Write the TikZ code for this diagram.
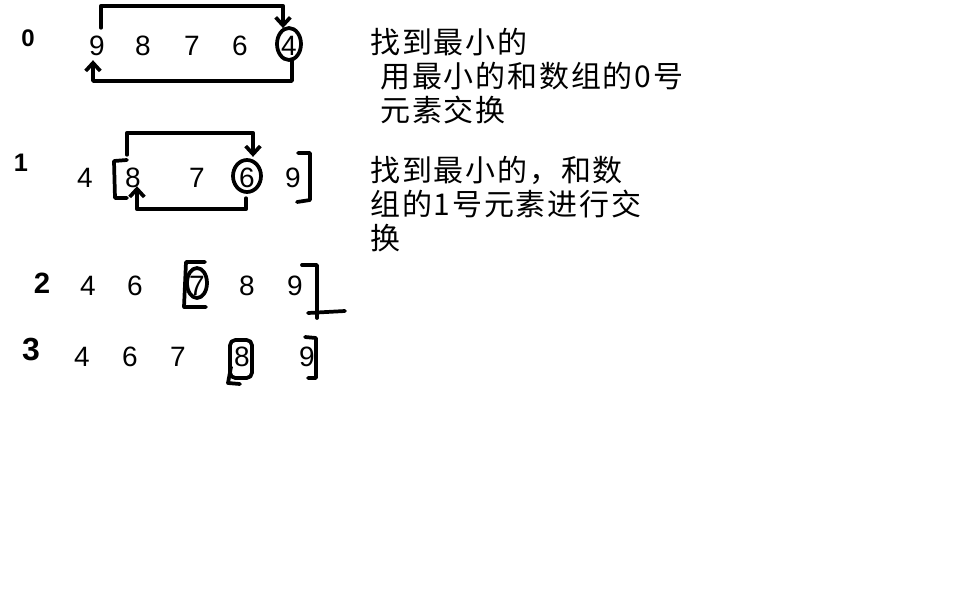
\documentclass[tikz,border=0pt]{standalone}
\usepackage{fontspec}
\setmainfont{Liberation Sans}
\newfontfamily\cjk[LetterSpace=6]{Noto Sans CJK SC}
\usetikzlibrary{calc,arrows.meta}

\begin{document}
\begin{tikzpicture}[x=0.75pt,y=-0.75pt,
  digit/.style={inner sep=0pt,font=\fontsize{21}{21}\selectfont},
  rowlbl/.style={inner sep=0pt},
  note/.style={inner sep=0pt,anchor=base west,align=left,
    font=\cjk\fontsize{22.5}{25.2}\selectfont},
  pen/.style={line width=2.8pt,line cap=round,line join=round},
  swap/.style={pen,-{Straight Barb[length=6pt,width=11pt]}}]
\useasboundingbox (0,0) rectangle (957,615);
% pass numbers
\foreach \r/\xx/\yy/\sz in {0/28/38/18,1/21/163/19,2/42/283/22,3/31/350/24} {
  \node[rowlbl,font=\fontsize{\sz}{\sz}\selectfont\bfseries] (lbl\r) at (\xx,\yy) {\r};
}
% array values, one row per pass
\foreach \r/\yy/\vals in {
  0/46/{9/97,8/143,7/192,6/240,4/289},
  1/178/{4/85,8/133,7/197,6/247,9/293},
  2/286/{4/88,6/135,7/197,8/247,9/295},
  3/357/{4/82,6/130,7/178,8/242,9/307}} {
  \foreach \v/\xx [count=\c from 0] in \vals {
    \node[digit] (r\r-\c) at (\xx,\yy) {\v};
  }
}
% pass 0: swap 9 and 4
\draw[swap] ($(r0-0.north)+(4,-8)$) -- ++(0,-22) -| ($(r0-4.north)+(-6,-8)$);
\draw[pen] ($(r0-4)+(0,-2)$) ellipse [x radius=12,y radius=16];
\draw[swap] ($(r0-4.south)+(3,4)$) -- ++(0,21) -| ($(r0-0.south)+(-4,4)$);
% pass 1: swap 8 and 6
\draw[pen] ($(r1-1)+(-6,-18)$) -- ++(-13,1) -- ++(1,37) -- ++(12,0);
\draw[swap] ($(r1-1.north)+(-6,-13)$) -- ++(0,-22) -| ($(r1-3.north)+(6,-11)$);
\draw[pen] ($(r1-3)+(0,-2)$) ellipse [x radius=14,y radius=16];
\draw[swap] ($(r1-3.south)+(-1,10)$) -- ++(0,11) -| ($(r1-1.south)+(4,-2)$);
\draw[pen] ($(r1-4)+(5,-25)$) -- ++(12,0) -- ++(0,47) -- ++(-13,2);
% pass 2
\draw[pen] ($(r2-2)+(8,-24)$) -- ++(-19,0) -- ++(-2,45) -- ++(22,0);
\draw[pen] ($(r2-2)+(0,-3)$) ellipse [x radius=10,y radius=15];
\draw[pen] ($(r2-4)+(7,-21)$) -- ++(15,0) -- ++(0,53);
\draw[pen] ($(r2-4)+(13,27)$) -- ++(37,-2);
% pass 3
\draw[pen,rounded corners=4pt] ($(r3-3)+(-12,-17)$) rectangle ($(r3-3)+(10,21)$);
\draw[pen] ($(r3-3)+(-11,10)$) -- ++(-3,16) -- ++(12,1);
\draw[pen] ($(r3-4)+(-2,-20)$) -- ++(11,1) -- ++(0,40) -- ++(-8,0);
% notes (anchored at the baseline of the last line)
\node[note] (note0) at (370,121) {找到最小的\\\hspace*{7.5pt}用最小的和数组的0号\\\hspace*{7.5pt}元素交换};
\node[note] (note1) at (370,249) {找到最小的，和数\\组的1号元素进行交\\换};
\end{tikzpicture}
\end{document}
